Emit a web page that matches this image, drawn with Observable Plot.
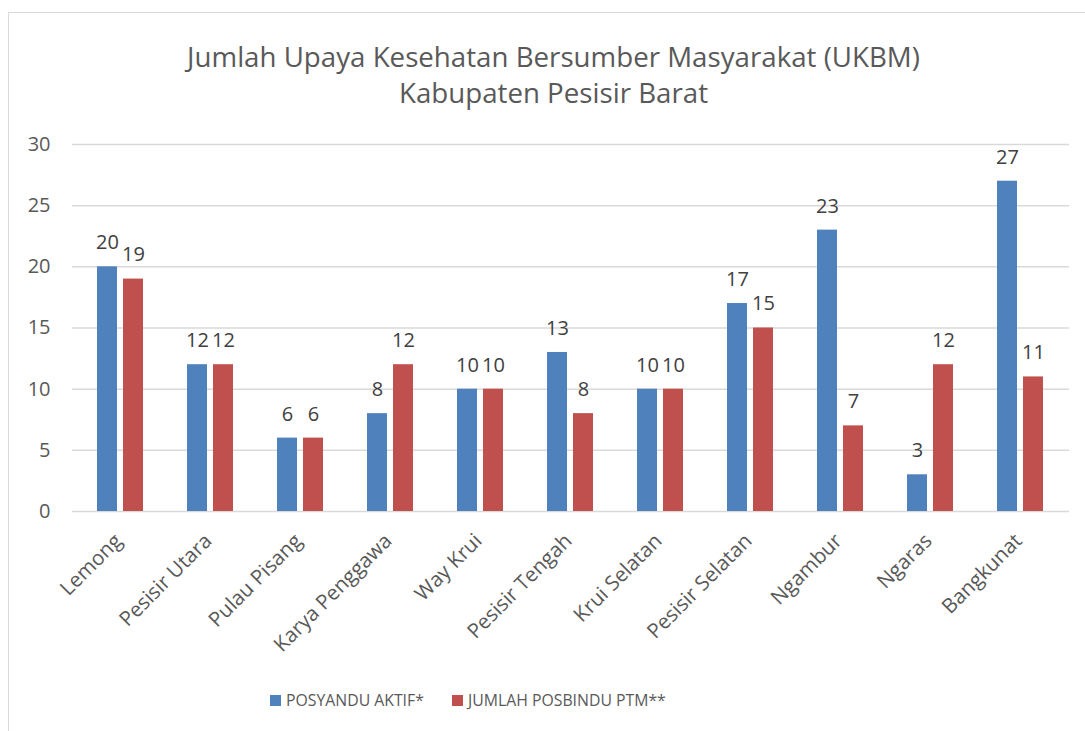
<!DOCTYPE html>
<html>
<head>
<meta charset="utf-8">
<script src="https://cdn.jsdelivr.net/npm/d3@7"></script>
<script src="https://cdn.jsdelivr.net/npm/@observablehq/plot@0.6"></script>
<style>
  html, body { margin: 0; padding: 0; background: #fff; overflow: hidden; }
  #wrap { position: relative; width: 1085px; height: 731px; overflow: hidden; font-family: "Open Sans", sans-serif; }
  #frame { position: absolute; left: 8px; top: 12px; width: 1100px; height: 740px; border: 1px solid #d9d9d9; box-sizing: border-box; }
  #title { position: absolute; left: 0; width: 1107px; top: 38px; text-align: center; font-size: 27.7px; line-height: 36px; color: #595959; }
  #chart { position: absolute; left: 0; top: 120px; }
  #legend { position: absolute; top: 688px; left: 0; width: 1085px; height: 24px; font-size: 15.8px; color: #595959; }
  .item { position: absolute; top: 0; display: flex; align-items: center; height: 24px; }
  .sw { width: 11px; height: 11px; margin-right: 5px; }
</style>
</head>
<body>
<div id="wrap">
  <div id="frame"></div>
  <div id="title">Jumlah Upaya Kesehatan Bersumber Masyarakat (UKBM)<br>Kabupaten Pesisir Barat</div>
  <div id="chart"></div>
  <div id="legend"></div>
</div>
<script>
const categories = ["Lemong", "Pesisir Utara", "Pulau Pisang", "Karya Penggawa", "Way Krui", "Pesisir Tengah", "Krui Selatan", "Pesisir Selatan", "Ngambur", "Ngaras", "Bangkunat"];
const seriesNames = ["POSYANDU AKTIF*", "JUMLAH POSBINDU PTM**"];
const posyandu = [20, 12, 6, 8, 10, 13, 10, 17, 23, 3, 27];
const posbindu = [19, 12, 6, 12, 10, 8, 10, 15, 7, 12, 11];
const colors = ["#4F81BD", "#C0504D"];
const yTicks = [0, 5, 10, 15, 20, 25, 30];

const rowsA = categories.map((c, i) => ({kec: c, series: seriesNames[0], value: posyandu[i]}));
const rowsB = categories.map((c, i) => ({kec: c, series: seriesNames[1], value: posbindu[i]}));

const font = '"Open Sans", sans-serif';

const plot = Plot.plot({
  width: 1085,
  height: 545,
  marginLeft: 72,
  marginRight: 16,
  marginTop: 24,
  marginBottom: 154,
  style: {fontFamily: font, background: "transparent", overflow: "visible"},
  x: {domain: categories, paddingInner: 0.774, paddingOuter: 0.387, label: null},
  y: {domain: [0, 30], label: null},
  color: {domain: seriesNames, range: colors},
  marks: [
    Plot.gridY(yTicks, {stroke: "#d9d9d9", strokeOpacity: 1, strokeWidth: 1.5}),
    Plot.axisY(yTicks, {tickSize: 0, tickPadding: 22, fontSize: 20, fill: "#595959", label: null}),
    Plot.axisX({tickSize: 0, tickRotate: -45, tickPadding: 26, dx: -2, fontSize: 20.5, fill: "#595959", label: null}),
    Plot.barY(rowsA, {x: "kec", y: "value", fill: "series", dx: -13}),
    Plot.barY(rowsB, {x: "kec", y: "value", fill: "series", dx: 13}),
    Plot.text(rowsA, {x: "kec", y: "value", text: d => String(d.value), dx: -13, dy: -24, fontSize: 20, fill: "#404040"}),
    Plot.text(rowsB, {x: "kec", y: "value", text: d => String(d.value), dx: 13, dy: -24, fontSize: 20, fill: "#404040"})
  ]
});
document.getElementById("chart").appendChild(plot);

const legend = document.getElementById("legend");
const lefts = [270, 452];
seriesNames.forEach((s, i) => {
  const it = document.createElement("div");
  it.className = "item";
  it.style.left = lefts[i] + "px";
  const sw = document.createElement("div");
  sw.className = "sw";
  sw.style.background = colors[i];
  const t = document.createElement("span");
  t.textContent = s;
  it.appendChild(sw);
  it.appendChild(t);
  legend.appendChild(it);
});
</script>
</body>
</html>
